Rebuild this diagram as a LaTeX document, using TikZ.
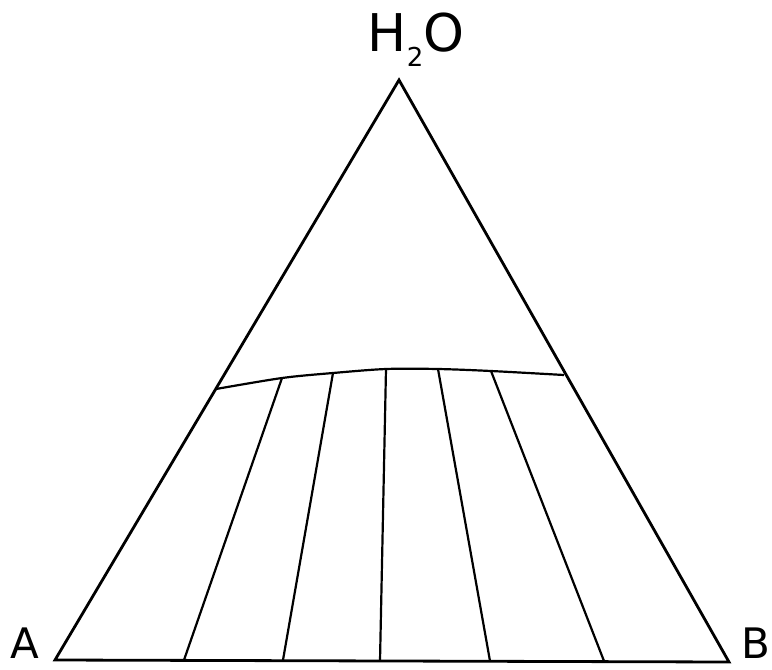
\documentclass[tikz,border=0pt]{standalone}
\usepackage{fontspec}
\setsansfont{DejaVu Sans}
\begin{document}
\begin{tikzpicture}[x=1pt,y=-1pt,
  edge/.style={line width=2.8pt,line join=miter},
  tie/.style={line width=2.2pt},
  lbl/.style={font=\sffamily\fontsize{42}{42}\selectfont,inner sep=0pt,anchor=base}]
\useasboundingbox (0,0) rectangle (772,670);
\coordinate (A) at (55,660);
\coordinate (T) at (399,80);
\coordinate (B) at (729,662);
\draw[edge] (A) -- (T) -- (B) -- cycle;
\coordinate (c0) at (216,389);
\coordinate (c1) at (282,378);
\coordinate (c2) at (333,373);
\coordinate (c3) at (386,369);
\coordinate (c4) at (438,369);
\coordinate (c5) at (491,371);
\coordinate (c6) at (564,375);
\draw[tie] plot[smooth,tension=0.5] coordinates {(216,389) (282,378) (333,373) (386,369) (438,369) (491,371) (564,375)};
\coordinate (b1) at (184,660);
\coordinate (b2) at (283,660);
\coordinate (b3) at (380,661);
\coordinate (b4) at (490,661);
\coordinate (b5) at (604,661);
\draw[tie] (c1) -- (b1);
\draw[tie] (c2) -- (b2);
\draw[tie] (c3) -- (b3);
\draw[tie] (c4) -- (b4);
\draw[tie] (c5) -- (b5);
\node[lbl] (la) at (25,658) {A};
\node[lbl] (lb) at (756,658) {B};
\node[lbl,font=\sffamily\fontsize{52}{52}\selectfont] (lw) at (416,51) {H\raisebox{-0.3em}{\fontsize{26}{26}\selectfont 2}O};
\end{tikzpicture}
\end{document}
